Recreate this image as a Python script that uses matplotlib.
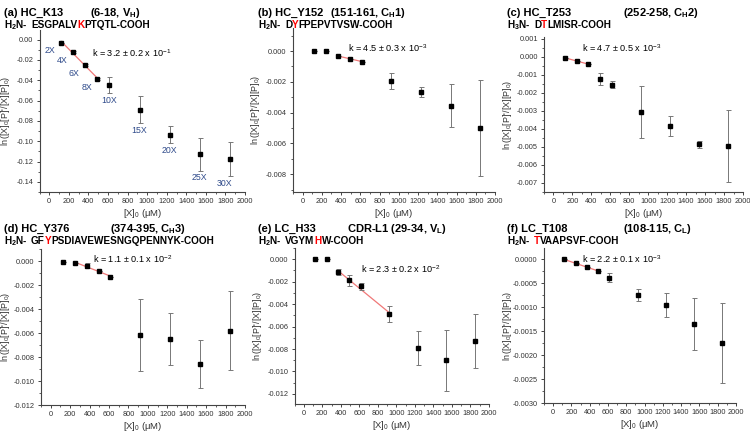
import numpy as np
import matplotlib
matplotlib.use("Agg")
import matplotlib.pyplot as plt
from matplotlib.ticker import MultipleLocator, FormatStrFormatter

plt.rcParams['font.family'] = ['Liberation Sans', 'DejaVu Sans']
plt.rcParams['mathtext.fontset'] = 'custom'
plt.rcParams['mathtext.rm'] = 'Liberation Sans'
plt.rcParams['mathtext.it'] = 'Liberation Sans:italic'
plt.rcParams['mathtext.bf'] = 'Liberation Sans:bold'
plt.rcParams['axes.unicode_minus'] = False

# concentration of crosslinker (2X ... 30X)
conc = [123, 246, 369, 492, 615, 923, 1230, 1538, 1846]
fold_labels = ['2X', '4X', '6X', '8X', '10X', '15X', '20X', '25X', '30X']

# (a) HC_K13
a_y = [-0.003, -0.0125, -0.025, -0.039, -0.045, -0.069, -0.0935, -0.113, -0.1175]
a_err = [0.0, 0.001, 0.001, 0.001, 0.008, 0.0135, 0.0085, 0.016, 0.017]
# (b) HC_Y152
b_y = [0.0, 0.0, -0.00032, -0.0005, -0.00068, -0.00195, -0.00265, -0.00355, -0.005]
b_err = [0.0, 0.0, 0.0, 0.0, 0.0, 0.0005, 0.00035, 0.0014, 0.0031]
# (c) HC_T253
c_y = [-0.00005, -0.00025, -0.0004, -0.00122, -0.00155, -0.00305, -0.00385, -0.00485, -0.00495]
c_err = [0.0, 0.0, 0.0, 0.00035, 0.0002, 0.00145, 0.00055, 0.0002, 0.002]
# (d) HC_Y376
d_y = [-0.00005, -0.00015, -0.0004, -0.00085, -0.0013, -0.0062, -0.0065, -0.0086, -0.0058]
d_err = [0.0, 0.0, 0.0002, 0.0, 0.0, 0.003, 0.0022, 0.002, 0.0033]
# (e) LC_H33
e_y = [0.0, 0.0, -0.00115, -0.00188, -0.0024, -0.00488, -0.0079, -0.009, -0.0073]
e_err = [0.0, 0.0, 0.0003, 0.0005, 0.0003, 0.00075, 0.0015, 0.0027, 0.0024]
# (f) LC_T108
f_y = [0.0, -0.00008, -0.00016, -0.00024, -0.00038, -0.00074, -0.00096, -0.00135, -0.00175]
f_err = [0.0, 0.0, 0.0, 0.0, 0.00009, 0.00012, 0.00025, 0.00055, 0.00083]

panels = [
    dict(y=a_y, err=a_err, fit=(0, 4), k=r'k = 3.2 $\pm$ 0.2 x 10$^{-1}$',
         title='(a) HC_K13', region=r'(6-18, V$_\mathbf{H}$)',
         seq=('ESGPALV', 'K', 'PTQTL-COOH'), nh=r'H$_\mathbf{2}$N-',
         ylim=(-0.15, 0.0095), ystep=0.02, fmt='%.2f', kpos=(440, -0.013),
         rect=(39.5, 30, 245, 192), tpos=(4, 13, 90), ylx=12),
    dict(y=b_y, err=b_err, fit=(2, 5), k=r'k = 4.5 $\pm$ 0.3 x 10$^{-3}$',
         title='(b) HC_Y152', region=r'(151-161, C$_\mathbf{H}$1)',
         seq=('D', 'Y', 'FPEPVTVSW-COOH'), nh=r'H$_\mathbf{2}$N-',
         ylim=(-0.00915, 0.0015), ystep=0.002, fmt='%.3f', kpos=(470, 0.0002),
         rect=(293, 28, 495, 192), tpos=(258, 13, 330), ylx=262),
    dict(y=c_y, err=c_err, fit=(0, 3), k=r'k = 4.7 $\pm$ 0.5 x 10$^{-3}$',
         title='(c) HC_T253', region=r'(252-258, C$_\mathbf{H}$2)',
         seq=('D', 'T', 'LMISR-COOH'), nh=r'H$_\mathbf{3}$N-',
         ylim=(-0.0075, 0.0011), ystep=0.001, fmt='%.3f', kpos=(300, 0.0005),
         rect=(544, 37, 743, 192), tpos=(507, 13, 623), ylx=514),
    dict(y=d_y, err=d_err, fit=(1, 5), k=r'k = 1.1 $\pm$ 0.1 x 10$^{-2}$',
         title='(d) HC_Y376', region=r'(374-395, C$_\mathbf{H}$3)',
         seq=('GF', 'Y', 'PSDIAVEWESNGQPENNYK-COOH'), nh=r'H$_\mathbf{2}$N-',
         ylim=(-0.012, 0.001), ystep=0.002, fmt='%.3f', kpos=(437, 0.00014),
         rect=(41, 249, 245, 405), tpos=(4, 229, 110), ylx=12),
    dict(y=e_y, err=e_err, fit=(2, 6), k=r'k = 2.3 $\pm$ 0.2 x 10$^{-2}$',
         title='(e) LC_H33', region=r'CDR-L1 (29-34, V$_\mathbf{L}$)',
         seq=('VGYM', 'H', 'W-COOH'), nh=r'H$_\mathbf{2}$N-',
         ylim=(-0.0129, 0.001), ystep=0.002, fmt='%.3f', kpos=(620, -0.00084),
         rect=(294.5, 248, 489, 404), tpos=(258, 229, 347), ylx=264),
    dict(y=f_y, err=f_err, fit=(0, 4), k=r'k = 2.2 $\pm$ 0.1 x 10$^{-3}$',
         title='(f) LC_T108', region=r'(108-115, C$_\mathbf{L}$)',
         seq=('', 'T', 'VAAPSVF-COOH'), nh=r'H$_\mathbf{2}$N-',
         ylim=(-0.003, 0.00024), ystep=0.0005, fmt='%.4f', kpos=(320, 0.0),
         rect=(544, 248, 736, 403), tpos=(507, 229, 623), ylx=514),
]

W, H = 750, 432
fig = plt.figure(figsize=(7.5, 4.32), dpi=100)
renderer = fig.canvas.get_renderer()


def width_px(s, size):
    t = fig.text(0, 0, s, fontsize=size, fontweight='bold')
    w = t.get_window_extent(renderer).width
    t.remove()
    return w


def sequence_line(x_px, y_px, nh, pre, red, post, size):
    # peptide sequence with the modified residue in red; all pieces are aligned
    # on the glyph positions of the full string
    yy = 1 - y_px / H
    fig.text(x_px / W, yy, nh, fontsize=size, fontweight='bold', va='baseline')
    x0 = x_px + width_px(nh, size) + 3.5
    full = pre + red + post
    if pre:
        fig.text(x0 / W, yy, pre, fontsize=size, fontweight='bold', va='baseline')
    fig.text((x0 + width_px(pre + red, size)) / W, yy, red, fontsize=size,
             fontweight='bold', color='red', va='baseline', ha='right')
    fig.text((x0 + width_px(full, size)) / W, yy, post, fontsize=size,
             fontweight='bold', va='baseline', ha='right')


for i, p in enumerate(panels):
    l, t, r, b = p['rect']
    ax = fig.add_axes([l / W, 1 - b / H, (r - l) / W, (b - t) / H])
    x = np.array(conc, dtype=float)
    y = np.array(p['y'])
    ax.errorbar(x, y, yerr=p['err'], fmt='s', color='black', ms=2.6,
                ecolor='#777777', elinewidth=0.7, capsize=1.8, capthick=0.7, zorder=3)
    i0, i1 = p['fit']
    coef = np.polyfit(x[i0:i1], y[i0:i1], 1)
    xf = x[i0:i1][[0, -1]]
    ax.plot(xf, np.polyval(coef, xf), color='#f07878', lw=0.9, zorder=2)
    ax.text(p['kpos'][0], p['kpos'][1], p['k'], fontsize=6.6, va='center', ha='left')

    ax.set_xlim(-100, 2000)
    ax.set_ylim(*p['ylim'])
    ax.xaxis.set_major_locator(MultipleLocator(200))
    ax.xaxis.set_minor_locator(MultipleLocator(100))
    ax.yaxis.set_major_locator(MultipleLocator(p['ystep']))
    ax.yaxis.set_minor_locator(MultipleLocator(p['ystep'] / 2))
    ax.yaxis.set_major_formatter(FormatStrFormatter(p['fmt']))
    for s in ['top', 'right']:
        ax.spines[s].set_visible(False)
    for s in ['left', 'bottom']:
        ax.spines[s].set_linewidth(0.8)
        ax.spines[s].set_color('#444444')
    ax.tick_params(which='major', direction='out', length=2.5, width=0.7,
                   labelsize=5.3, pad=2, colors='#444444', labelcolor='#333333')
    ax.tick_params(which='minor', direction='out', length=1.5, width=0.6, colors='#444444')
    ax.set_xlabel('[X]$_0$ (μM)', fontsize=6.8, labelpad=1.5, color='#333333')
    ax.set_ylabel(r"ln([X]$_0$[P]'/[X][P]$_0$)", fontsize=6.5, color='#333333')
    ax.yaxis.set_label_coords((p['ylx'] - l) / (r - l), 0.5)

    if i == 0:
        for j, (xi, yi, lab) in enumerate(zip(conc, p['y'], fold_labels)):
            if j < 4:
                ax.annotate(lab, (xi, yi), xytext=(-4, -2.5), textcoords='offset points',
                            ha='right', va='top', fontsize=6.3, color='#2e4a8a')
            else:
                dx = -4 if j == 8 else 0
                ax.annotate(lab, (xi, yi - p['err'][j]), xytext=(dx, -2),
                            textcoords='offset points', ha='center', va='top',
                            fontsize=6.3, color='#2e4a8a')

    tx, ty, rx = p['tpos']
    fig.text(tx / W, 1 - ty / H, p['title'], fontsize=8, fontweight='bold', va='center')
    fig.text(rx / W, 1 - ty / H, p['region'], fontsize=8, fontweight='bold', va='center')
    sequence_line(tx, ty + 15, p['nh'], *p['seq'], 7.2)

fig.savefig('out.png', dpi=100)
